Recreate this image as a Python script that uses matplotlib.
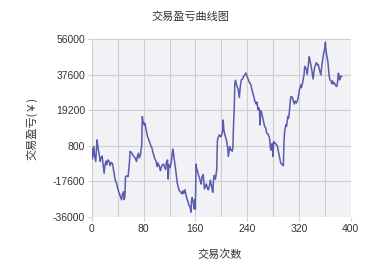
import numpy as np
from matplotlib import pyplot as plt

plt.rcParams['font.family'] = ['Liberation Sans', 'Noto Sans CJK SC', 'DejaVu Sans']

# trade number / cumulative profit
trade_no = [0, 1, 2, 3, 4, 6, 7, 8, 9, 10, 11, 13, 14, 16, 17, 19, 20, 22, 23, 25,
            27, 28, 30, 32, 34, 36, 38, 40, 42, 44, 46, 47, 49, 50, 51, 52, 54, 56, 58, 59,
            61, 63, 65, 67, 69, 70, 72, 73, 75, 76, 77, 78, 79, 81, 82, 84, 86, 88, 90, 91,
            93, 94, 96, 97, 99, 101, 102, 104, 106, 107, 109, 111, 112, 114, 115, 117, 118, 119, 121, 123,
            125, 126, 127, 129, 130, 132, 133, 135, 137, 139, 141, 142, 144, 146, 147, 149, 150, 152, 153, 154,
            155, 157, 158, 159, 160, 161, 162, 163, 165, 166, 168, 169, 170, 172, 173, 174, 176, 177, 179, 180,
            182, 183, 185, 186, 187, 188, 189, 191, 192, 193, 194, 195, 197, 199, 200, 202, 203, 204, 206, 208,
            209, 210, 211, 212, 213, 215, 216, 217, 218, 219, 220, 221, 222, 223, 224, 226, 227, 228, 229, 230,
            231, 233, 234, 236, 238, 239, 241, 243, 244, 246, 247, 249, 251, 252, 254, 255, 257, 258, 259, 260,
            261, 262, 264, 266, 267, 269, 270, 272, 274, 275, 276, 277, 278, 279, 280, 281, 282, 284, 285, 287,
            288, 290, 292, 293, 295, 296, 297, 298, 300, 301, 303, 304, 305, 307, 308, 310, 311, 313, 314, 316,
            318, 319, 321, 323, 324, 326, 327, 328, 329, 331, 332, 333, 335, 336, 337, 339, 340, 341, 342, 344,
            346, 347, 349, 350, 352, 354, 355, 357, 358, 360, 361, 362, 364, 365, 366, 367, 368, 370, 371, 372,
            373, 375, 376, 378, 379, 380, 381, 382, 383, 384, 385, 386]

pnl = [-400, -6000, -2500, 500, -4000, -7300, -1000, 3900, 1500, -1500, -3000, -7300, -5500, -4500, -8000, -13400, -9500, -7000, -9000, -6500,
       -7500, -9500, -7800, -8500, -12700, -16800, -18500, -21200, -23500, -25500, -27200, -24500, -23000, -27000, -25500, -15100, -14800, -15200, -8000, -2100,
       -2500, -3800, -4800, -5500, -7300, -5000, -3000, -5500, -4200, -1200, 800, 16000, 13500, 11700, 12500, 9000, 5600, 4000, 2000, 1000,
       -500, -2100, -4500, -5600, -7000, -9900, -8000, -9500, -12100, -10500, -9000, -8700, -10000, -11500, -8000, -6500, -16400, -9000, -10500, -7000,
       -920, -2500, -5500, -10000, -13000, -18500, -19800, -22400, -23000, -24100, -22500, -24000, -22000, -25500, -26700, -28500, -30000, -31000, -33600, -28000,
       -26000, -29000, -31900, -27000, -32000, -8660, -11000, -12000, -14500, -15500, -18000, -19000, -15500, -14000, -18000, -21500, -20000, -19000, -21500, -22000,
       -19500, -17000, -20000, -22000, -23300, -17000, -14500, -16500, -14000, -11500, 3400, 5000, 6500, 5500, 5800, 8200, 14200, 9000, 6000, 3900,
       1500, -400, -4700, -2000, 500, -1500, -1300, -2000, 500, 12000, 19400, 33000, 34800, 33500, 32000, 30500, 28000, 25900, 30000, 33000,
       35000, 35500, 36500, 37400, 38600, 37500, 36000, 34000, 33500, 32300, 30500, 28000, 25400, 24000, 22500, 23500, 19500, 20500, 19500, 11600,
       19000, 18500, 15500, 12500, 11000, 9900, 7500, 7000, 5600, 4000, -500, -1500, 1500, 2000, -4700, 3000, 2500, 2000, 1500, 500,
       -1500, -4700, -8150, -8500, -9000, -9500, 3000, 8300, 11800, 11000, 16100, 15000, 17500, 25000, 26400, 26000, 24500, 22500, 24000, 23000,
       24500, 26000, 30000, 32400, 31000, 34000, 36000, 37600, 42000, 41000, 40000, 38000, 44000, 47000, 45500, 42000, 40000, 37600, 35500, 41000,
       43000, 44000, 42500, 43000, 40000, 37600, 41000, 46000, 48000, 51400, 54500, 50000, 46000, 44000, 40000, 36700, 35000, 34200, 33000, 34500,
       33000, 33500, 32500, 31600, 32000, 34500, 38500, 37600, 35000, 36500, 37000, 36700]

y_ticks = [56000, 37600, 19200, 800, -17600, -36000]
x_ticks = [0, 80, 160, 240, 320, 400]

fig = plt.figure(figsize=(3.75, 2.7), dpi=100)
ax = fig.add_axes([0.245, 0.197, 0.69, 0.657])
ax.set_facecolor('#f1f1f6')

ax.plot(trade_no, pnl, color='#5a5aae', linewidth=1.1)

ax.set_xlim(0, 400)
ax.set_ylim(-36000, 56000)
ax.set_xticks(x_ticks)
ax.set_xticks(np.arange(0, 401, 40), minor=True)
ax.set_yticks(y_ticks)
ax.set_yticklabels([str(v) for v in y_ticks])
ax.grid(True, which='both', color='#cdcdd2', linewidth=0.8)
ax.set_axisbelow(True)
for s in ax.spines.values():
    s.set_visible(False)
ax.tick_params(axis='both', which='both', length=3, color='#d0d0d0',
               labelsize=7.5, labelcolor='#333333', pad=2)
ax.tick_params(axis='x', which='minor', length=0)

fig.text(0.507, 0.937, '交易盈亏曲线图', ha='center', va='center', fontsize=8,
         color='#333333', family=['Noto Sans CJK SC'])
fig.text(0.587, 0.056, '交易次数', ha='center', va='center', fontsize=8,
         color='#333333', family=['Noto Sans CJK SC'])
fig.text(0.085, 0.526, '交易盈亏(￥)', ha='center', va='center', rotation=90,
         fontsize=8, color='#333333', family=['Noto Sans CJK SC'])

fig.savefig('out.png', dpi=100)
